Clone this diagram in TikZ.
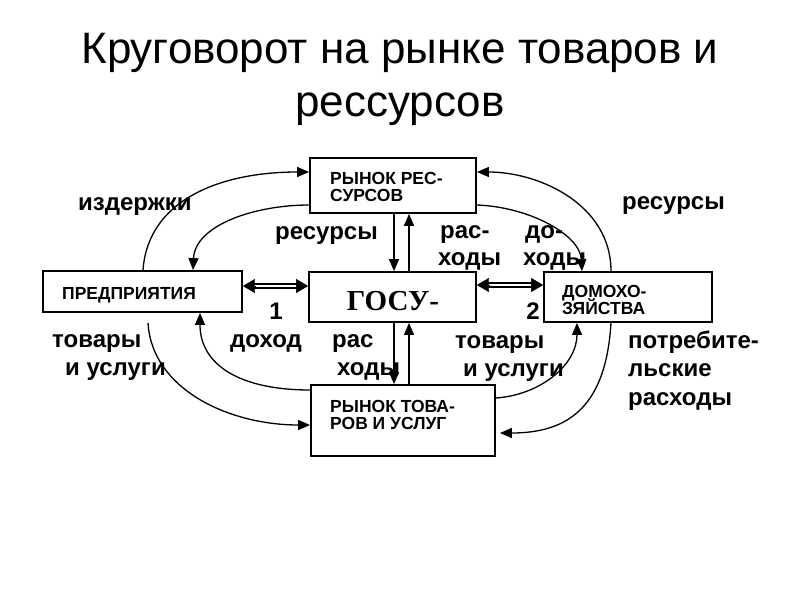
\documentclass[tikz,border=0pt]{standalone}
\usepackage{fontspec}
\setmainfont{Liberation Sans}
\newfontfamily\serifbf{Liberation Serif}
\usetikzlibrary{arrows.meta,calc}
\begin{document}
\begin{tikzpicture}[x=1pt,y=-1pt,
  box/.style={draw, line width=1.8pt, inner sep=0pt},
  btxt/.style={font=\bfseries\fontsize{17.5}{17.5}\selectfont, anchor=base west, inner sep=0pt},
  lbl/.style={font=\bfseries\fontsize{24}{24}\selectfont, anchor=base west, inner sep=0pt},
  ttl/.style={font=\fontsize{44}{44}\selectfont, anchor=base, inner sep=0pt},
  flow/.style={line width=1.3pt, -{Triangle[length=12pt,width=10pt]}},
  vflow/.style={line width=1.4pt, -{Triangle[length=12pt,width=10pt]}},
  dline/.style={line width=1.8pt, double distance=2.6pt},
  htip/.style={-{Triangle[length=12pt,width=14pt]}}
]
\fill[white] (0,0) rectangle (800,600);
\useasboundingbox (0,0) rectangle (800,600);

% title
\node[ttl] (t1) at (400,63) {Круговорот на рынке товаров и};
\node[ttl] (t2) at (400,116) {рессурсов};

% boxes
\node[box, minimum width=166pt, minimum height=55pt] (rr) at (393,185.5) {};
\node[box, minimum width=167pt, minimum height=50pt] (gov) at (392.5,297) {};
\node[box, minimum width=184pt, minimum height=71pt] (rt) at (403,420.5) {};
\node[box, minimum width=199pt, minimum height=41pt] (pr) at (142.5,291.5) {};
\node[box, minimum width=168pt, minimum height=50pt] (dh) at (628,297) {};

% box texts
\node[btxt] (rr1) at (330,184) {РЫНОК РЕС-};
\node[btxt] (rr2) at (330,201) {СУРСОВ};
\node[font=\serifbf\bfseries\fontsize{29}{29}\selectfont, anchor=base, inner sep=0pt] (govt) at (393,310) {ГОСУ-};
\node[btxt] (prt) at (62,299) {ПРЕДПРИЯТИЯ};
\node[btxt] (dh1) at (562,297) {ДОМОХО-};
\node[btxt] (dh2) at (562,314) {ЗЯЙСТВА};
\node[btxt] (rt1) at (330,412) {РЫНОК ТОВА-};
\node[btxt] (rt2) at (330,429) {РОВ И УСЛУГ};

% labels
\node[lbl] (l1) at (78,210) {издержки};
\node[lbl] (l2) at (275,239) {ресурсы};
\node[lbl] (l3) at (440,238) {рас-};
\node[lbl] (l4) at (438,265) {ходы};
\node[lbl] (l5) at (525,238) {до-};
\node[lbl] (l6) at (523,265) {ходы};
\node[lbl] (l7) at (622,209) {ресурсы};
\node[lbl, anchor=base] (n1) at (276,319) {1};
\node[lbl, anchor=base] (n2) at (533,319) {2};
\node[lbl] (l8) at (52,347) {товары};
\node[lbl] (l9) at (65,375) {и услуги};
\node[lbl] (l10) at (230,347) {доход};
\node[lbl] (l11) at (332,347) {рас};
\node[lbl] (l12) at (337,375) {ходы};
\node[lbl] (l13) at (455,348) {товары};
\node[lbl] (l14) at (463,376) {и услуги};
\node[lbl] (l15) at (628,348) {потребите-};
\node[lbl] (l16) at (628,376) {льские};
\node[lbl] (l17) at (628,405) {расходы};

% curved flows
\draw[flow] (pr.north -| 143,0) .. controls (148,200) and (220,172) .. (rr.west |- 0,172);
\draw[flow] (rr.west |- 0,205) .. controls (255,205) and (195,225) .. (pr.north -| 193,0);
\draw[flow] (dh.north -| 611,0) .. controls (611,205) and (540,172) .. (rr.east |- 0,172);
\draw[flow] (rr.east |- 0,205) .. controls (530,207) and (580,235) .. (dh.north -| 582,0);
\draw[flow] ($(pr.south -| 148,0)+(0,10)$) .. controls (152,390) and (230,425) .. (rt.west |- 0,425);
\draw[flow] (rt.west |- 0,390) .. controls (240,390) and (200,365) .. (pr.south -| 200,0);
\draw[flow] (rt.east |- 0,398) .. controls (540,395) and (577,365) .. (dh.south -| 577,0);
\draw[flow] (dh.south -| 611,0) .. controls (606,405) and (570,433) .. ($(rt.east |- 0,433)+(4,0)$);

% vertical flows
\draw[vflow] (rr.south -| 394,0) -- (gov.north -| 394,0);
\draw[vflow] (gov.north -| 409,0) -- (rr.south -| 409,0);
\draw[vflow] (gov.south -| 394,0) -- (rt.north -| 394,0);
\draw[vflow] (rt.north -| 409,0) -- (gov.south -| 409,0);

% double horizontal flows
\coordinate (a1) at (pr.east |- 0,286);
\coordinate (b1) at (gov.west |- 0,286);
\coordinate (a2) at (gov.east |- 0,285);
\coordinate (b2) at (dh.west |- 0,285);
\draw[dline, shorten <=9pt, shorten >=9pt] (a1) -- (b1);
\draw[dline, shorten <=9pt, shorten >=9pt] (a2) -- (b2);
\draw[htip] ($(a1)+(12,0)$) -- (a1);
\draw[htip] ($(b1)+(-12,0)$) -- (b1);
\draw[htip] ($(a2)+(12,0)$) -- (a2);
\draw[htip] ($(b2)+(-12,0)$) -- (b2);
\end{tikzpicture}
\end{document}
